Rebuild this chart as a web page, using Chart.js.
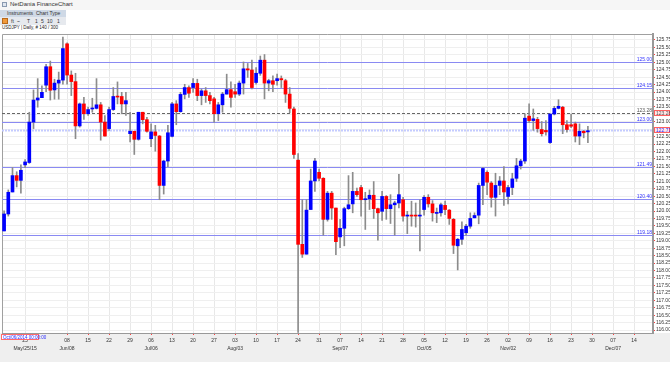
<!DOCTYPE html>
<html>
<head>
<meta charset="utf-8">
<script src="https://cdn.jsdelivr.net/npm/chart.js@4.4.0/dist/chart.umd.min.js"></script>
<style>
  body { margin: 0; background: #fff; font-family: "Liberation Sans", Arial, sans-serif; }
  #wrap { position: relative; width: 670px; height: 377px; overflow: hidden; }
  .abs { position: absolute; white-space: nowrap; }
  #titlebar { left: 0; top: 0; width: 670px; height: 10px; background: #f6f6f6; }
  #title { left: 10px; top: 1px; font-size: 6px; color: #333; }
  #appicon { left: 2px; top: 2px; width: 5px; height: 5px; border: 1px solid #8a9ab0; background: #dfe6ef; box-sizing: border-box; }
  #menu { left: 0; top: 10px; width: 66px; height: 7px; background: #cfd9e6; font-size: 5px; color: #333; padding-left: 7px; box-sizing: border-box; line-height: 7px; }
  #tools { left: 0; top: 17px; width: 66px; height: 8px; background: #e6e9ee; font-size: 5px; color: #333; line-height: 8px; }
  #tools span { position: absolute; top: 0; }
  #orange { left: 2px; top: 18px; width: 6px; height: 6px; background: #f19a3a; border: 1px solid #b86a1c; box-sizing: border-box; }
  #sym { left: 2px; top: 25px; font-size: 4.5px; color: #222; }
  #footer { left: 0; top: 333px; width: 670px; height: 29px; background: #efefef; }
  #cross { left: 1px; top: 334px; width: 38px; height: 6px; border: 1px solid #ff6b6b; background: #fff; color: #2b2bff; font-size: 4.5px; line-height: 5px; box-sizing: border-box; padding-left: 1px; }
  canvas { position: absolute; left: 0; top: 30px; }
</style>
</head>
<body>
<div id="wrap">
  <div class="abs" id="titlebar"></div>
  <div class="abs" id="appicon"></div>
  <div class="abs" id="title">NetDania FinanceChart</div>
  <div class="abs" id="menu">Instruments&nbsp;&nbsp;Chart Type</div>
  <div class="abs" id="tools">
    <span style="left:11px">ft</span><span style="left:17px">~</span><span style="left:27px">T</span>
    <span style="left:35px">1</span><span style="left:41px">5</span><span style="left:47px">10</span><span style="left:57px">1</span>
  </div>
  <div class="abs" id="orange"></div>
  <div class="abs" id="sym">USDJPY | Daily, # 140 / 300</div>
  <div class="abs" id="footer"></div>
  <canvas id="chart" width="670" height="332"></canvas>
  <div class="abs" id="cross">Oct/06/2014 00:00:00</div>
</div>
<script>
// USDJPY daily, 18 May 2015 .. 27 Nov 2015
const opens = [
  119.33, 119.90, 120.64, 121.19, 121.03, 121.55, 121.63, 122.99, 123.73, 123.81,
  124.23, 124.85, 124.07, 124.30, 124.40, 125.62, 124.57, 124.35, 122.86, 123.60,
  123.27, 123.43, 123.45, 123.57, 122.99, 122.77, 123.41, 123.85, 123.85, 123.60,
  122.60, 122.68, 122.41, 123.32, 123.07, 122.43, 122.66, 122.52, 120.86, 121.68,
  122.51, 123.60, 123.34, 123.92, 124.15, 124.15, 124.29, 123.88, 124.04, 123.88,
  123.77, 123.27, 123.57, 123.93, 124.08, 124.01, 123.93, 124.30, 124.78, 124.74,
  124.32, 124.63, 125.07, 124.30, 124.38, 124.38, 124.45, 124.38, 123.93, 123.43,
  121.71, 118.88, 118.55, 120.05, 121.01, 121.30, 121.10, 119.72, 120.60, 120.10,
  119.13, 119.42, 120.08, 120.24, 120.66, 120.79, 120.38, 120.41, 120.53, 120.08,
  119.99, 120.49, 120.08, 120.21, 120.27, 120.38, 119.83, 119.86, 119.86, 119.83,
  120.05, 120.46, 120.24, 119.92, 119.94, 120.19, 120.03, 119.72, 118.83, 119.05,
  119.27, 119.49, 119.77, 119.86, 120.86, 121.30, 120.94, 120.46, 120.86, 121.01,
  120.49, 120.79, 121.10, 121.52, 121.68, 123.19, 123.04, 123.08, 122.74, 122.71,
  122.30, 123.26, 123.45, 123.49, 122.90, 122.90, 122.93, 122.52, 122.68, 122.66
];
const highs = [
  120.01, 120.71, 121.46, 121.32, 121.55, 121.73, 123.32, 124.07, 124.45, 124.21,
  124.93, 125.04, 124.43, 124.67, 125.85, 125.65, 124.71, 124.63, 123.63, 123.82,
  123.49, 123.79, 124.45, 123.65, 123.21, 123.49, 124.15, 124.34, 123.99, 123.99,
  123.32, 122.68, 123.32, 123.32, 123.15, 122.93, 122.88, 122.54, 121.71, 122.88,
  123.65, 123.71, 123.99, 124.26, 124.21, 124.45, 124.43, 124.10, 124.15, 123.99,
  123.82, 123.65, 123.99, 124.60, 124.34, 124.26, 124.37, 125.01, 124.96, 125.07,
  124.82, 125.21, 125.26, 124.43, 124.54, 124.60, 124.54, 124.43, 124.15, 123.49,
  121.93, 120.38, 120.38, 121.41, 121.77, 121.41, 121.12, 120.66, 120.66, 120.10,
  119.72, 120.13, 121.19, 121.30, 120.77, 120.86, 120.63, 120.71, 120.99, 120.10,
  120.66, 120.52, 120.55, 120.33, 121.23, 120.46, 119.99, 120.33, 120.27, 120.38,
  120.52, 120.55, 120.35, 120.10, 120.27, 120.33, 120.05, 119.75, 119.08, 119.64,
  119.55, 119.94, 119.94, 120.94, 121.46, 121.35, 120.99, 121.27, 121.16, 121.49,
  120.86, 121.27, 121.77, 121.74, 123.27, 123.60, 123.43, 123.15, 123.01, 123.04,
  123.26, 123.52, 123.74, 123.52, 123.04, 123.26, 122.99, 122.93, 122.71, 122.85
];
const lows = [
  119.33, 119.83, 120.64, 120.81, 120.60, 121.46, 121.60, 122.77, 123.49, 123.81,
  124.01, 123.73, 123.76, 123.76, 124.26, 124.26, 123.88, 122.43, 122.82, 123.08,
  123.21, 123.32, 123.43, 122.38, 122.52, 122.71, 123.38, 123.60, 123.27, 123.21,
  122.32, 121.90, 122.38, 122.93, 122.65, 122.16, 122.01, 120.38, 120.57, 121.49,
  122.49, 122.90, 123.32, 123.77, 123.82, 123.99, 123.71, 123.57, 123.65, 123.60,
  122.99, 123.04, 123.32, 123.93, 123.49, 123.82, 123.88, 123.93, 124.49, 124.10,
  124.26, 124.56, 123.77, 124.04, 124.01, 124.23, 124.15, 123.65, 123.30, 121.77,
  115.92, 118.44, 118.55, 120.05, 120.66, 121.01, 119.19, 119.66, 119.72, 118.53,
  118.77, 118.83, 120.05, 119.94, 120.49, 119.83, 119.38, 120.05, 119.75, 119.02,
  119.68, 119.72, 119.58, 119.19, 120.10, 119.66, 119.24, 119.49, 119.46, 118.66,
  119.86, 120.13, 119.66, 119.61, 119.83, 119.88, 119.55, 118.57, 118.02, 118.88,
  119.19, 119.42, 119.77, 119.57, 120.21, 120.55, 120.13, 119.83, 120.55, 120.19,
  120.24, 120.55, 120.99, 121.41, 121.60, 122.97, 122.71, 122.65, 122.52, 122.55,
  122.27, 123.23, 123.43, 122.60, 122.65, 122.80, 122.32, 122.23, 122.46, 122.30
];
const closes = [
  119.90, 120.63, 121.19, 121.03, 121.37, 121.65, 122.99, 123.73, 123.80, 123.99,
  124.85, 124.06, 124.30, 124.40, 125.46, 124.57, 124.35, 122.86, 123.60, 123.27,
  123.41, 123.45, 123.57, 122.99, 122.52, 123.41, 123.85, 123.83, 123.60, 123.71,
  122.68, 122.41, 123.32, 123.07, 122.68, 122.66, 122.54, 120.86, 121.68, 122.63,
  123.60, 123.34, 123.92, 124.15, 123.96, 124.29, 123.88, 124.04, 123.88, 123.71,
  123.27, 123.57, 123.93, 124.08, 123.82, 123.93, 124.30, 124.78, 124.74, 124.15,
  124.63, 125.07, 124.30, 124.38, 124.26, 124.45, 124.41, 123.93, 123.45, 121.90,
  118.88, 118.55, 120.03, 121.01, 121.68, 121.10, 119.72, 120.60, 120.10, 118.97,
  119.42, 120.08, 120.21, 120.66, 120.55, 120.38, 120.41, 120.53, 120.08, 119.94,
  120.49, 120.08, 120.21, 120.27, 120.55, 119.83, 119.86, 119.83, 119.83, 119.86,
  120.46, 120.24, 119.94, 119.94, 120.21, 120.05, 119.75, 118.85, 119.05, 119.38,
  119.49, 119.75, 119.85, 120.86, 121.43, 120.97, 120.46, 120.86, 121.01, 120.64,
  120.79, 121.08, 121.52, 121.68, 123.12, 123.04, 123.10, 122.77, 122.60, 122.66,
  123.26, 123.45, 123.52, 122.90, 122.74, 122.85, 122.52, 122.68, 122.63, 122.70
];

// support / resistance lines drawn on the chart
const levels = [125.00, 124.15, 123.00, 121.49, 120.40, 119.18];
const dashedLevel = 123.28;
const lastPrice = 122.71;

// weekly ticks on the time axis (Mondays) and the month captions under them
const tickDates = [
  '2015-05-25', '2015-06-08', '2015-06-15', '2015-06-22', '2015-06-29', '2015-07-06',
  '2015-07-13', '2015-07-20', '2015-07-27', '2015-08-03', '2015-08-10', '2015-08-17',
  '2015-08-24', '2015-08-31', '2015-09-07', '2015-09-14', '2015-09-21', '2015-09-28',
  '2015-10-05', '2015-10-12', '2015-10-19', '2015-10-26', '2015-11-02', '2015-11-09',
  '2015-11-16', '2015-11-23', '2015-11-30', '2015-12-07', '2015-12-14'
];
const monthLabels = {
  '2015-05-25': 'May/25/15', '2015-06-08': 'Jun/08', '2015-07-06': 'Jul/06',
  '2015-08-03': 'Aug/03', '2015-09-07': 'Sep/07', '2015-10-05': 'Oct/05',
  '2015-11-02': 'Nov/02', '2015-12-07': 'Dec/07'
};

// trading-day calendar, with empty days after the last bar
const days = [];
const dt = new Date(Date.UTC(2015, 4, 18));
while (days.length < 155) {
  const wd = dt.getUTCDay();
  if (wd > 0 && wd < 6) days.push(dt.toISOString().slice(0, 10));
  dt.setUTCDate(dt.getUTCDate() + 1);
}

const bodies = opens.map((o, i) => [Math.min(o, closes[i]), Math.max(o, closes[i])]);
const wicks = lows.map((l, i) => [l, highs[i]]);
const bodyColors = opens.map((o, i) => closes[i] >= o ? '#0000ff' : '#ff0000');

const FONT = '"Liberation Sans", Arial, sans-serif';
const isTick = i => tickDates.includes(days[i]);

const overlay = {
  id: 'overlay',
  beforeDatasetsDraw(chart) {
    const { ctx, chartArea: a, scales: { y } } = chart;
    ctx.save();
    // frame
    ctx.strokeStyle = '#a0a0a0';
    ctx.lineWidth = 1;
    ctx.beginPath();
    ctx.moveTo(a.left + 0.5, a.bottom);
    ctx.lineTo(a.left + 0.5, a.top + 0.5);
    ctx.lineTo(a.right, a.top + 0.5);
    ctx.stroke();

    ctx.font = '5px ' + FONT;
    ctx.textAlign = 'right';
    ctx.textBaseline = 'bottom';
    levels.forEach(v => {
      const py = Math.round(y.getPixelForValue(v)) + 0.5;
      ctx.strokeStyle = '#8a8af2';
      ctx.beginPath();
      ctx.moveTo(a.left, py);
      ctx.lineTo(a.right, py);
      ctx.stroke();
      ctx.fillStyle = '#3535ff';
      ctx.fillText(v.toFixed(2), a.right - 1, py - 0.5);
    });

    // dashed level
    let py = Math.round(y.getPixelForValue(dashedLevel)) + 0.5;
    ctx.strokeStyle = '#666';
    ctx.setLineDash([3, 2]);
    ctx.beginPath();
    ctx.moveTo(a.left, py);
    ctx.lineTo(a.right, py);
    ctx.stroke();
    ctx.fillStyle = '#555';
    ctx.fillText(dashedLevel.toFixed(2), a.right - 1, py - 0.5);

    // last price, dotted
    py = Math.round(y.getPixelForValue(lastPrice)) + 0.5;
    ctx.strokeStyle = '#c4cbff';
    ctx.lineWidth = 2;
    ctx.setLineDash([2, 1]);
    ctx.beginPath();
    ctx.moveTo(a.left, py);
    ctx.lineTo(a.right, py);
    ctx.stroke();
    ctx.restore();
  },
  afterDraw(chart) {
    const { ctx, chartArea: a, scales: { y } } = chart;
    ctx.save();
    ctx.font = '5px ' + FONT;
    ctx.textAlign = 'left';
    ctx.textBaseline = 'middle';
    const box = (v, color) => {
      const py = Math.round(y.getPixelForValue(v));
      ctx.fillStyle = '#ffe6e6';
      ctx.fillRect(a.right + 1, py - 3, 16, 6);
      ctx.strokeStyle = '#ff6060';
      ctx.lineWidth = 1;
      ctx.strokeRect(a.right + 1.5, py - 2.5, 15, 5);
      ctx.fillStyle = color;
      ctx.fillText(v.toFixed(2), a.right + 3, py + 0.5);
    };
    box(dashedLevel, '#555');
    box(lastPrice, '#2b2bff');
    ctx.restore();
  }
};

new Chart(document.getElementById('chart'), {
  type: 'bar',
  data: {
    labels: days,
    datasets: [
      {
        data: bodies,
        backgroundColor: bodyColors,
        barThickness: 3,
        minBarLength: 1,
        grouped: false
      },
      {
        data: wicks,
        backgroundColor: '#8c8c8c',
        barThickness: 1,
        grouped: false
      }
    ]
  },
  options: {
    responsive: false,
    animation: false,
    devicePixelRatio: 1,
    layout: { padding: { top: 1, left: 2, right: 0, bottom: 0 } },
    plugins: { legend: { display: false }, tooltip: { enabled: false } },
    scales: {
      x: {
        type: 'category',
        offset: true,
        grid: {
          offset: false,
          color: c => isTick(c.index) ? '#e8e8e8' : 'rgba(0,0,0,0)',
          tickColor: c => isTick(c.index) ? '#ff4040' : 'rgba(0,0,0,0)',
          tickLength: 2
        },
        border: { color: '#999', width: 1 },
        ticks: {
          autoSkip: false,
          maxRotation: 0,
          padding: 2,
          color: '#333',
          font: { size: 5, family: FONT, lineHeight: 1.5 },
          callback: (v, i) => {
            const d = days[i];
            if (!tickDates.includes(d)) return '';
            const day = d.slice(8);
            return monthLabels[d] ? [day, monthLabels[d]] : day;
          }
        },
        afterFit: s => { s.height = 29; }
      },
      y: {
        position: 'right',
        min: 115.90,
        max: 125.95,
        grid: { color: '#efefef', tickColor: '#ff4040', tickLength: 2 },
        border: { color: '#999', width: 2 },
        ticks: {
          stepSize: 0.25,
          includeBounds: false,
          autoSkip: false,
          padding: 1,
          color: '#333',
          font: { size: 5, family: FONT },
          callback: v => v.toFixed(2)
        },
        afterFit: s => { s.width = 17; }
      }
    }
  },
  plugins: [overlay]
});
</script>
</body>
</html>
